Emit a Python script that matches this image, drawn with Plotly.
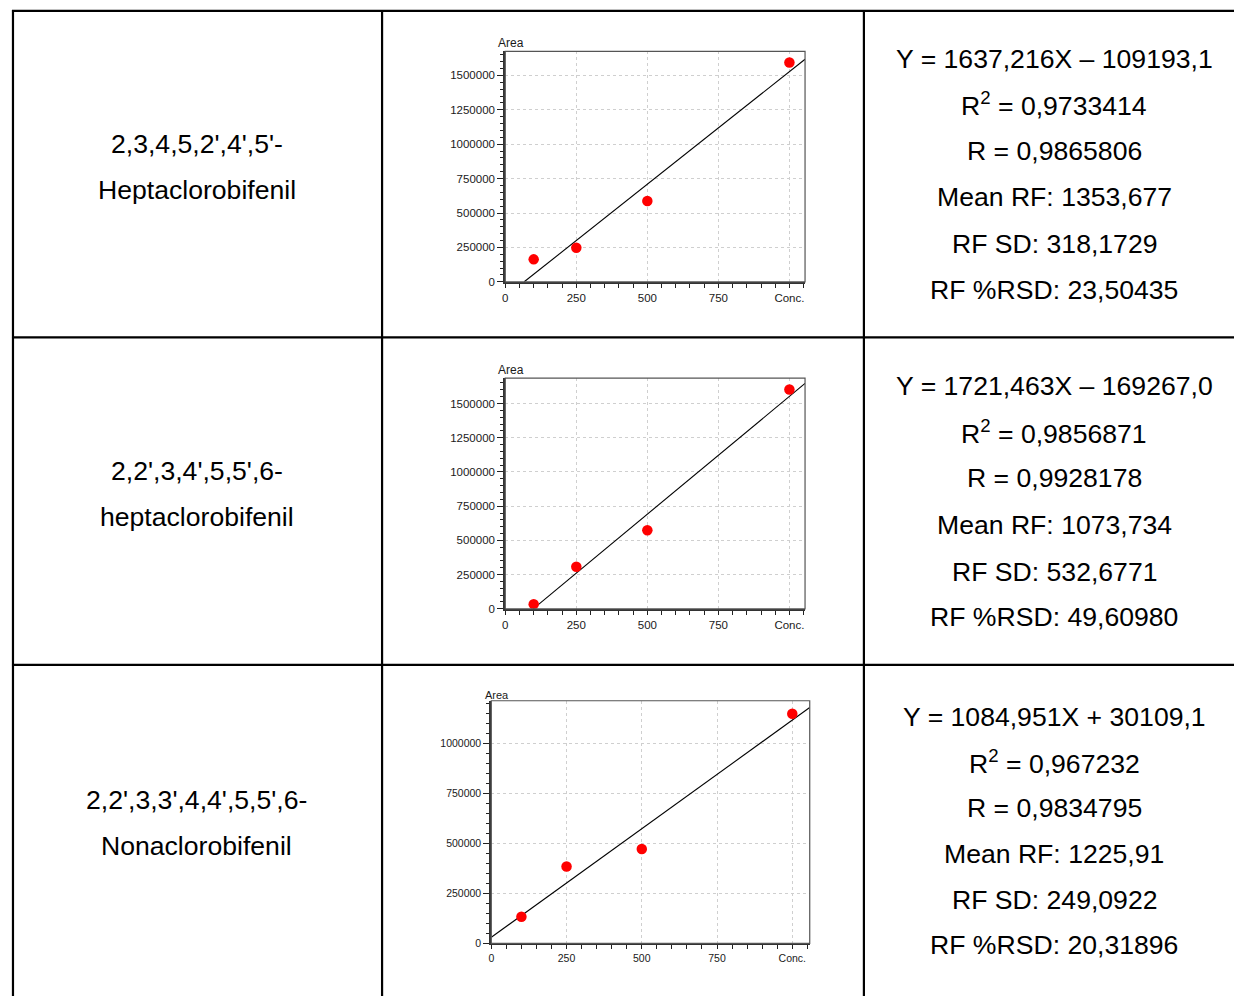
import plotly.graph_objects as go

W, H = 1234, 996

# ---------------- data ----------------
conc = [100, 250, 500, 1000]
area_hepta_a = [163000, 248000, 587000, 1594000]
area_hepta_b = [33000, 307000, 574000, 1603000]
area_nona = [133000, 384000, 471000, 1147000]

slopes = [1637.216, 1721.463, 1084.951]
intercepts = [-109193.1, -169267.0, 30109.1]

x_tickvals = [0, 250, 500, 750, 1000]
x_ticktext = ["0", "250", "500", "750", "Conc."]

names_line1 = ["2,3,4,5,2',4',5'-", "2,2',3,4',5,5',6-", "2,2',3,3',4,4',5,5',6-"]
names_line2 = ["Heptaclorobifenil", "heptaclorobifenil", "Nonaclorobifenil"]

stats = [
    ["Y = 1637,216X – 109193,1", "R<sup>2</sup> = 0,9733414", "R = 0,9865806",
     "Mean RF: 1353,677", "RF SD: 318,1729", "RF %RSD: 23,50435"],
    ["Y = 1721,463X – 169267,0", "R<sup>2</sup> = 0,9856871", "R = 0,9928178",
     "Mean RF: 1073,734", "RF SD: 532,6771", "RF %RSD: 49,60980"],
    ["Y = 1084,951X + 30109,1", "R<sup>2</sup> = 0,967232", "R = 0,9834795",
     "Mean RF: 1225,91", "RF SD: 249,0922", "RF %RSD: 20,31896"],
]
areas = [area_hepta_a, area_hepta_b, area_nona]

# ---------------- layout geometry (pixels) ----------------
def px_x(p):
    return p / W

def px_y(p):
    return 1 - p / H

panels = [
    dict(xd=(503.5, 804), yd=(51.7, 283.5), xr=(0, 1055), yr=(0, 1675000),
         fs=11.5, area_pos=(494, 43)),
    dict(xd=(503.5, 804), yd=(380.5, 612.5), xr=(0, 1055), yr=(0, 1685000),
         fs=11.5, area_pos=(494, 372)),
    dict(xd=(489.5, 808.7), yd=(705, 949), xr=(0, 1058), yr=(0, 1212000),
         fs=10.5, area_pos=(481, 699)),
]

fig = go.Figure()
FONT = "Liberation Sans, Arial, sans-serif"
annotations = []
shapes = []

for i, p in enumerate(panels):
    n = "" if i == 0 else str(i + 1)
    xa, ya = "x" + n, "y" + n
    m, b = slopes[i], intercepts[i]
    x0 = max(p["xr"][0], -b / m)
    x1 = p["xr"][1]
    fig.add_trace(go.Scatter(x=[x0, x1], y=[m * x0 + b, m * x1 + b], mode="lines",
                             line=dict(color="black", width=1.1),
                             xaxis=xa, yaxis=ya, hoverinfo="skip"))
    fig.add_trace(go.Scatter(x=conc, y=areas[i], mode="markers",
                             marker=dict(color="#ff0000", size=10.5),
                             xaxis=xa, yaxis=ya))
    axcommon = dict(showline=True, linecolor="#333333", linewidth=2,
                    ticks="outside", tickwidth=1.3, tickcolor="#222222",
                    showgrid=True, gridcolor="#cfcfcf", griddash="dot", gridwidth=1,
                    zeroline=False, tickfont=dict(family=FONT, size=p["fs"], color="#1a1a1a"),
                    fixedrange=True)
    fig.update_layout(**{
        ("xaxis" + n): dict(domain=[px_x(p["xd"][0]), px_x(p["xd"][1])], range=list(p["xr"]),
                            anchor=ya, tickmode="array", tickvals=x_tickvals, ticktext=x_ticktext,
                            ticklen=4,
                            minor=dict(ticks="outside", ticklen=4, tickwidth=1.2,
                                       tickcolor="#222222", tick0=0, dtick=50, showgrid=False),
                            ticklabelstandoff=0, **axcommon),
        ("yaxis" + n): dict(domain=[px_y(p["yd"][1]), px_y(p["yd"][0])], range=list(p["yr"]),
                            anchor=xa, tickmode="linear", tick0=0, dtick=250000, tickformat="d",
                            ticklen=6,
                            minor=dict(ticks="outside", ticklen=3.5, tickwidth=1.2,
                                       tickcolor="#222222", tick0=0, dtick=50000, showgrid=False),
                            ticklabelstandoff=0, **axcommon),
    })
    shapes.append(dict(type="rect", xref=xa + " domain", yref=ya + " domain",
                       x0=0, x1=1, y0=0, y1=1, line=dict(color="#555555", width=1.2)))
    annotations.append(dict(text="Area", xref="paper", yref="paper",
                            x=px_x(p["area_pos"][0]), y=px_y(p["area_pos"][1]),
                            xanchor="left", yanchor="middle", showarrow=False,
                            font=dict(family=FONT, size=p["fs"] + 0.5, color="#1a1a1a")))

# ---------------- table text ----------------
TS = 26.6
left_y = [(145, 191), (474, 520), (805, 851)]
right_y = [[59, 105, 152, 198, 245, 292],
           [388, 435, 481, 528, 575, 621],
           [721, 767, 813, 859, 905, 951]]
for i in range(3):
    for t, yy in zip([names_line1[i], names_line2[i]], left_y[i]):
        annotations.append(dict(text=t, xref="paper", yref="paper", x=px_x(194), y=px_y(yy),
                                xanchor="center", yanchor="middle", showarrow=False,
                                font=dict(family=FONT, size=TS, color="black")))
    for t, yy in zip(stats[i], right_y[i]):
        annotations.append(dict(text=t, xref="paper", yref="paper", x=px_x(1054), y=px_y(yy),
                                xanchor="center", yanchor="middle", showarrow=False,
                                font=dict(family=FONT, size=TS, color="black")))

# ---------------- table lines ----------------
LW = 2.2
for yy in [11, 339.5, 669]:
    shapes.append(dict(type="line", xref="paper", yref="paper", x0=px_x(9), x1=1.01,
                       y0=px_y(yy), y1=px_y(yy), line=dict(color="black", width=LW)))
for xx in [10, 380, 863]:
    shapes.append(dict(type="line", xref="paper", yref="paper", x0=px_x(xx), x1=px_x(xx),
                       y0=px_y(10), y1=-0.02, line=dict(color="black", width=LW)))

fig.update_layout(width=W, height=H, margin=dict(l=0, r=0, t=0, b=0), autosize=False,
                  paper_bgcolor="white", plot_bgcolor="white", showlegend=False,
                  annotations=annotations, shapes=shapes)

fig.write_html("out.html", config={"displayModeBar": False})
